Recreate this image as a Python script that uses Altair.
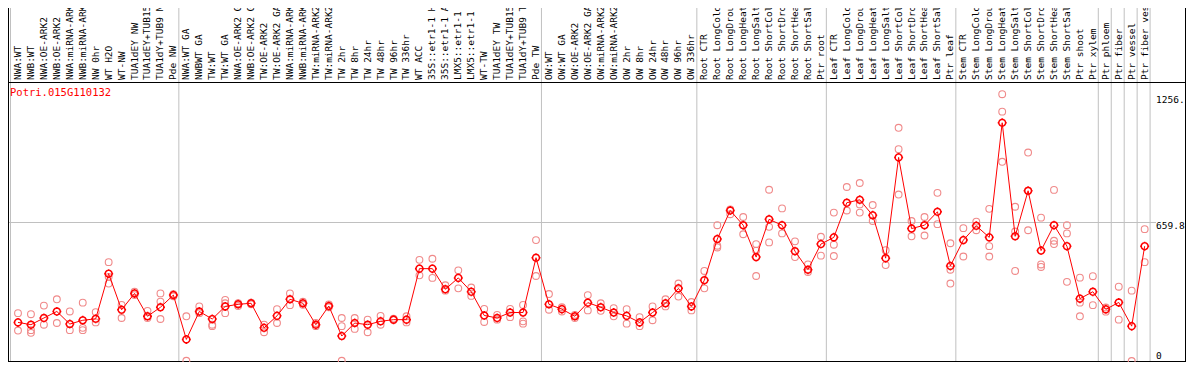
import math
import altair as alt
import pandas as pd

gene_id = "Potri.015G110132"

samples = [
    "NWA:WT", "NWB:WT", "NWA:OE-ARK2", "NWB:OE-ARK2", "NWA:miRNA-ARK2", "NWB:miRNA-ARK2",
    "NW 0hr", "WT H2O", "WT-NW", "TUA1dEY NW", "TUA1dEY+TUB15 NW", "TUA1dY+TUB9 NW", "Pde NW",
    "NWA:WT GA", "NWBWT GA", "TW:WT", "TW:WT GA", "NWA:OE-ARK2 GA", "NWB:OE-ARK2 GA",
    "TW:OE-ARK2", "TW:OE-ARK2 GA", "NWA:miRNA-ARK2 GA", "NWB:miRNA-ARK2 GA", "TW:miRNA-ARK2",
    "TW:miRNA-ARK2 GA", "TW 2hr", "TW 8hr", "TW 24hr", "TW 48hr", "TW 96hr", "TW 336hr",
    "WT ACC", "35S::etr1-1 H2O", "35S::etr1-1 ACC", "LMX5::etr1-1 H2O", "LMX5::etr1-1 ACC",
    "WT-TW", "TUA1dEY TW", "TUA1dEY+TUB15 TW", "TUA1dY+TUB9 TW", "Pde TW",
    "OW:WT", "OW:WT GA", "OW:OE-ARK2", "OW:OE-ARK2 GA", "OW:miRNA-ARK2", "OW:miRNA-ARK2 GA",
    "OW 2hr", "OW 8hr", "OW 24hr", "OW 48hr", "OW 96hr", "OW 336hr",
    "Root CTR", "Root LongCold", "Root LongDrought", "Root LongHeat", "Root LongSalt",
    "Root ShortCold", "Root ShortDrought", "Root ShortHeat", "Root ShortSalt", "Ptr root",
    "Leaf CTR", "Leaf LongCold", "Leaf LongDrought", "Leaf LongHeat", "Leaf LongSalt",
    "Leaf ShortCold", "Leaf ShortDrought", "Leaf ShortHeat", "Leaf ShortSalt", "Ptr leaf",
    "Stem CTR", "Stem LongCold", "Stem LongDrought", "Stem LongHeat", "Stem LongSalt",
    "Stem ShortCold", "Stem ShortDrought", "Stem ShortHeat", "Stem ShortSalt",
    "Ptr shoot", "Ptr xylem", "Ptr phloem", "Ptr fiber", "Ptr vessel", "Ptr fiber vessel",
]

mean_expr = [
    184, 173, 205, 236, 176, 194, 201, 416, 244, 322,
    213, 256, 314, 103, 236, 200, 260, 270, 275, 158,
    215, 294, 275, 173, 262, 119, 181, 173, 189, 197,
    197, 440, 440, 342, 396, 330, 217, 205, 231, 231,
    492, 270, 247, 213, 278, 256, 231, 215, 184, 231,
    275, 346, 260, 385, 581, 717, 647, 495, 675, 647,
    523, 435, 557, 589, 754, 768, 694, 490, 970, 631,
    647, 711, 453, 576, 644, 589, 1135, 594, 811, 526,
    647, 547, 297, 330, 246, 279, 166, 547,
]

rep_a = [
    228, 223, 264, 294, 236, 278, 233, 471, 267, 330,
    239, 322, 318, 213, 260, 173, 275, 262, 278, 173,
    247, 322, 282, 166, 270, 205, 205, 197, 215, 202,
    184, 482, 487, 361, 432, 350, 248, 220, 248, 267,
    576, 319, 236, 220, 314, 275, 252, 247, 209, 260,
    294, 369, 281, 429, 647, 722, 686, 557, 816, 727,
    570, 460, 592, 707, 829, 848, 743, 528, 1111, 667,
    686, 801, 561, 633, 664, 725, 1271, 735, 993, 683,
    815, 647, 397, 404, 255, 354, 335, 628,
]

rep_b = [
    145, 147, 173, 181, 147, 158, 184, 401, 205, 314,
    205, 283, 308, 1, 228, 166, 291, 275, 270, 137,
    181, 266, 268, 181, 256, 166, 153, 137, 173, 195,
    213, 408, 396, 335, 346, 310, 186, 197, 209, 189,
    405, 244, 256, 205, 241, 239, 213, 178, 166, 194,
    260, 307, 241, 346, 549, 699, 604, 526, 639, 608,
    495, 424, 502, 554, 717, 707, 667, 457, 1009, 594,
    598, 652, 435, 498, 623, 547, 1188, 617, 623, 460,
    573, 608, 278, 266, 235, 197, 0, 471,
]

N = None
rep_c = [
    N, 134, N, N, N, 147, N, 369, N, N,
    N, 200, N, N, N, N, 228, N, N, N,
    N, N, N, N, N, 1, N, N, N, N,
    N, N, N, N, N, N, N, N, N, 178,
    N, N, N, N, N, N, N, N, N, N,
    N, N, N, N, 541, N, N, 405, 565, N,
    N, N, N, 500, N, 746, N, N, 793, N,
    N, N, 369, N, N, 498, 949, 429, 811, 448,
    557, 377, 213, N, N, N, N, N,
]

# sample index before which a grey separator is drawn
group_starts = [0, 13, 41, 53, 63, 73, 84, 85, 86, 87, 88]

tick_values = [0.0, 659.8, 1256.0]
tick_labels = ["0", "659.8", "1256."]
mid_value = 659.8

W, H = 1178, 354
X_DOMAIN = [-0.7722, 90.1931]
Y_DOMAIN = [-4.764, 1681.7]
LABEL_Y = 1343.4
RIGHT_X = 87.88

idx = list(range(len(samples)))
means_df = pd.DataFrame({"i": idx, "sample": samples, "value": mean_expr})
reps = []
for i, row in enumerate(zip(rep_a, rep_b, rep_c)):
    for v in row:
        if v is not None:
            reps.append({"i": i, "value": v})
reps_df = pd.DataFrame(reps)
breaks_df = pd.DataFrame({"b": group_starts})
ticks_df = pd.DataFrame({"value": tick_values, "label": tick_labels})
one = pd.DataFrame({"k": [0]})
title_df = pd.DataFrame({"t": [gene_id]})

xs = alt.Scale(domain=X_DOMAIN, nice=False, zero=False)
ys = alt.Scale(domain=Y_DOMAIN, nice=False, zero=False)
X = alt.X("i:Q", scale=xs, axis=None)
Y = alt.Y("value:Q", scale=ys, axis=None)

# mean marker: ring with four small ticks (unit square -1..1)
R = 0.76
ring = [(R * math.cos(2 * math.pi * k / 24), R * math.sin(2 * math.pi * k / 24)) for k in range(24)]
SHAPE = "M" + "L".join(f"{x:.3f},{y:.3f}" for x, y in ring) + "Z"
SHAPE += f"M0,-1L0,-{R}M0,{R}L0,1M-1,0L-{R},0M{R},0L1,0"
MONO = "DejaVu Sans Mono"

separators = alt.Chart(breaks_df).transform_calculate(
    xb="datum.b - 0.58"
).mark_rule(color="#c0c0c0", strokeWidth=1).encode(
    x=alt.X("xb:Q", scale=xs, axis=None), y=alt.value(0), y2=alt.value(H)
)

midline = alt.Chart(one).transform_calculate(
    x0=str(X_DOMAIN[0]), x1=str(RIGHT_X), value=str(mid_value)
).mark_rule(color="#c0c0c0", strokeWidth=1).encode(
    x=alt.X("x0:Q", scale=xs, axis=None), x2="x1:Q", y=Y
)

frame_v = alt.Chart(one).mark_rule(color="black", strokeWidth=1)
left_line = frame_v.encode(x=alt.value(0.5), y=alt.value(0), y2=alt.value(H))
right_line = frame_v.encode(x=alt.value(W - 0.5), y=alt.value(0), y2=alt.value(H))
bottom_line = frame_v.encode(x=alt.value(0), x2=alt.value(W), y=alt.value(H - 0.5))
divider = frame_v.encode(x=alt.value(0), x2=alt.value(W), y=alt.value(74.5))

rep_pts = alt.Chart(reps_df).mark_point(
    shape="circle", filled=False, stroke="#f08a8a", strokeWidth=1.1, size=46, opacity=1
).encode(x=X, y=Y)

line = alt.Chart(means_df).mark_line(color="#ff0000", strokeWidth=1).encode(x=X, y=Y)

mean_pts = alt.Chart(means_df).mark_point(
    shape=SHAPE, filled=False, stroke="#ff0000", strokeWidth=1.5, size=81, opacity=1
).encode(x=X, y=Y)

labels = alt.Chart(means_df).transform_calculate(
    ly=str(LABEL_Y)
).mark_text(
    angle=270, align="left", baseline="middle", font=MONO, fontSize=9.5,
    color="black", dx=-1
).encode(x=X, y=alt.Y("ly:Q", scale=ys, axis=None), text="sample:N")

title = alt.Chart(title_df).mark_text(
    align="left", baseline="top", font=MONO, fontSize=10.5, color="#ff0000"
).encode(x=alt.value(2), y=alt.value(80), text="t:N")

tick_top = alt.Chart(ticks_df).transform_filter("datum.value > 0").transform_calculate(
    rx=str(RIGHT_X)
).mark_text(
    align="left", baseline="top", font=MONO, fontSize=9.5, color="black", dy=-2
).encode(x=alt.X("rx:Q", scale=xs, axis=None), y=Y, text="label:N")

tick_zero = alt.Chart(ticks_df).transform_filter("datum.value <= 0").transform_calculate(
    rx=str(RIGHT_X)
).mark_text(
    align="left", baseline="alphabetic", font=MONO, fontSize=9.5, color="black", dy=-2
).encode(x=alt.X("rx:Q", scale=xs, axis=None), y=Y, text="label:N")

chart = alt.layer(
    separators, midline, left_line, right_line, bottom_line, divider,
    rep_pts, line, mean_pts, labels, title, tick_top, tick_zero
).properties(
    width=W, height=H, autosize=alt.AutoSizeParams(type="none"), padding=0,
    background="white"
).configure_view(stroke=None)

chart.save("out.html", embed_options={"renderer": "svg", "actions": False})
